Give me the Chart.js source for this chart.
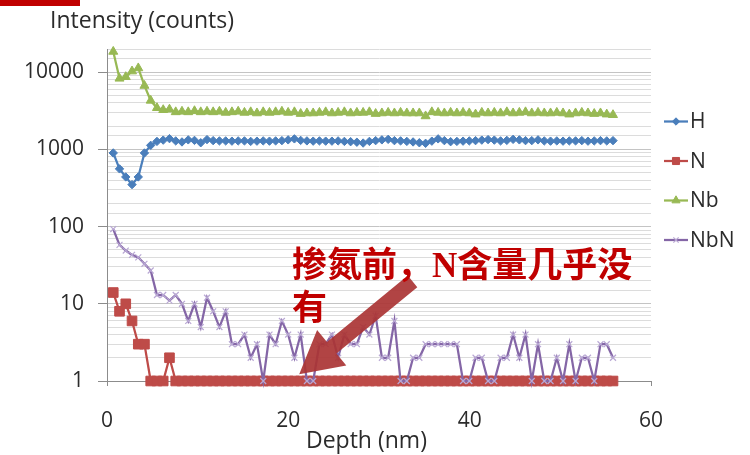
<!DOCTYPE html>
<html>
<head>
<meta charset="utf-8">
<script src="https://cdn.jsdelivr.net/npm/chart.js@4.4.1/dist/chart.umd.min.js"></script>
<style>
  body { margin: 0; background: #fff; }
  #wrap { position: relative; width: 750px; height: 455px; overflow: hidden; }
  #box { position: absolute; left: 0; top: 0; width: 750px; height: 455px; }
  .bar { position: absolute; left: 0; top: 0; width: 80px; height: 6px; background: #c00000; }
  .lbl { position: absolute; font-family: "Open Sans", sans-serif; font-size: 23px; color: #2b2b2b; white-space: nowrap; }
  #ytitle { left: 50px; top: 3px; }
  #xtitle { left: 306px; top: 423px; }
  #note { position: absolute; left: 292px; top: 244px; font-family: "Liberation Serif", "Noto Sans CJK SC", serif;
          font-weight: bold; font-size: 35px; line-height: 43px; color: #c00000; white-space: nowrap; }
</style>
</head>
<body>
<div id="wrap">
  <div id="box"><canvas id="sims"></canvas></div>
  <div class="bar"></div>
  <div class="lbl" id="ytitle">Intensity (counts)</div>
  <div class="lbl" id="xtitle">Depth (nm)</div>
  <div id="note">掺氮前，N含量几乎没<br>有</div>
</div>
<script>
// depth of each measurement point (nm)
const depth = [0.69, 1.38, 2.07, 2.76, 3.45, 4.13, 4.82, 5.51, 6.20, 6.89,
  7.58, 8.27, 8.96, 9.65, 10.34, 11.03, 11.71, 12.40, 13.09, 13.78,
  14.47, 15.16, 15.85, 16.54, 17.23, 17.92, 18.60, 19.29, 19.98, 20.67,
  21.36, 22.05, 22.74, 23.43, 24.12, 24.81, 25.49, 26.18, 26.87, 27.56,
  28.25, 28.94, 29.63, 30.32, 31.01, 31.70, 32.38, 33.07, 33.76, 34.45,
  35.14, 35.83, 36.52, 37.21, 37.90, 38.59, 39.27, 39.96, 40.65, 41.34,
  42.03, 42.72, 43.41, 44.10, 44.79, 45.48, 46.16, 46.85, 47.54, 48.23,
  48.92, 49.61, 50.30, 50.99, 51.68, 52.37, 53.05, 53.74, 54.43, 55.12, 55.81];

const hCounts = [900, 560, 440, 350, 440, 900, 1130, 1270, 1320, 1380,
  1290, 1250, 1330, 1310, 1220, 1340, 1300, 1290, 1290, 1280,
  1290, 1290, 1270, 1280, 1290, 1280, 1290, 1300, 1330, 1370,
  1310, 1290, 1280, 1290, 1280, 1280, 1290, 1270, 1260, 1240,
  1210, 1270, 1300, 1330, 1350, 1300, 1290, 1270, 1250, 1220,
  1200, 1280, 1370, 1300, 1260, 1270, 1280, 1290, 1300, 1320,
  1340, 1320, 1290, 1310, 1350, 1330, 1300, 1300, 1330, 1290,
  1280, 1290, 1280, 1290, 1290, 1300, 1280, 1290, 1300, 1290, 1300];

const nCounts = [14, 8, 10, 6, 3, 3, 1, 1, 1, 2,
  1, 1, 1, 1, 1, 1, 1, 1, 1, 1,
  1, 1, 1, 1, 1, 1, 1, 1, 1, 1,
  1, 1, 1, 1, 1, 1, 1, 1, 1, 1,
  1, 1, 1, 1, 1, 1, 1, 1, 1, 1,
  1, 1, 1, 1, 1, 1, 1, 1, 1, 1,
  1, 1, 1, 1, 1, 1, 1, 1, 1, 1,
  1, 1, 1, 1, 1, 1, 1, 1, 1, 1, 1];

const nbCounts = [18500, 8300, 8700, 10300, 11300, 6700, 4300, 3450, 3250, 3300,
  3050, 3100, 3050, 3150, 3050, 3100, 3050, 3100, 3000, 3050,
  3100, 3000, 3050, 2950, 3050, 3000, 3050, 3100, 3000, 3050,
  2900, 2950, 2950, 3000, 3050, 2950, 3000, 3050, 2950, 3000,
  3000, 3050, 2900, 2950, 3000, 2950, 3000, 2950, 2950, 2950,
  2700, 3050, 3000, 2950, 3000, 2950, 3000, 2950, 2850, 3000,
  2950, 3000, 2950, 3050, 2950, 3000, 3050, 2950, 3000, 2950,
  2950, 3000, 2950, 2850, 2950, 3000, 2950, 2900, 2950, 2850, 2800];

const nbnCounts = [93, 58, 49, 43, 40, 33, 27, 13, 13, 11,
  13, 10, 6, 10, 5, 12, 8, 5, 8, 3,
  3, 4, 2, 3, 1, 4, 3, 6, 4, 2,
  4, 1, 1, 3, 3, 4, 2, 4, 3, 3,
  5, 4, 7, 2, 2, 6, 1, 1, 2, 2,
  3, 3, 3, 3, 3, 3, 1, 1, 2, 2,
  1, 1, 2, 2, 4, 2, 4, 1, 3, 1,
  1, 2, 1, 3, 1, 2, 2, 1, 3, 3, 2];

const seriesNames = ['H', 'N', 'Nb', 'NbN'];
const xTicks = [0, 20, 40, 60];
const yMin = 1, yMax = 20000;

function pts(vals) {
  return vals.map((v, i) => ({ x: depth[i], y: v }));
}

function isDecade(v) {
  const l = Math.log10(v);
  return Math.abs(l - Math.round(l)) < 1e-9;
}

// side legend like the excel one
const sideLegend = {
  id: 'sideLegend',
  afterDraw(chart) {
    const ctx = chart.ctx;
    chart.data.datasets.forEach((ds, i) => {
      const y = 121.5 + i * 39.5;
      ctx.save();
      ctx.strokeStyle = ds.borderColor;
      ctx.lineWidth = ds.borderWidth;
      ctx.beginPath();
      ctx.moveTo(664, y);
      ctx.lineTo(688, y);
      ctx.stroke();
      ctx.fillStyle = ds.pointBackgroundColor;
      ctx.strokeStyle = ds.pointBorderColor;
      ctx.lineWidth = ds.pointBorderWidth;
      const r = ds.pointStyle === 'rect' ? 5 : ds.pointRadius - 0.5;
      Chart.helpers.drawPoint(ctx, { pointStyle: ds.pointStyle, radius: r, borderWidth: ds.pointBorderWidth, rotation: 0 }, 676, y);
      ctx.fillStyle = '#2b2b2b';
      ctx.font = '21px "Open Sans"';
      ctx.textBaseline = 'middle';
      ctx.fillText(ds.label, 690, y + 1);
      ctx.restore();
    });
  }
};

// the red arrow of the slide
const noteArrow = {
  id: 'noteArrow',
  afterDatasetsDraw(chart) {
    const xs = chart.scales.x, ys = chart.scales.y;
    const x0 = xs.getPixelForValue(33.7), y0 = ys.getPixelForValue(19.5);
    const x1 = xs.getPixelForValue(21.2), y1 = ys.getPixelForValue(1.22);
    const dx = x1 - x0, dy = y1 - y0, len = Math.hypot(dx, dy);
    const ux = dx / len, uy = dy / len, nx = -uy, ny = ux;
    const head = 42, hw = 23, sw = 7.5;
    const bx = x1 - ux * head, by = y1 - uy * head;
    const ctx = chart.ctx;
    ctx.save();
    ctx.fillStyle = 'rgba(170, 52, 52, 0.92)';
    ctx.beginPath();
    ctx.moveTo(x0 + nx * sw, y0 + ny * sw);
    ctx.lineTo(bx + nx * sw, by + ny * sw);
    ctx.lineTo(bx + nx * hw, by + ny * hw);
    ctx.lineTo(x1, y1);
    ctx.lineTo(bx - nx * hw, by - ny * hw);
    ctx.lineTo(bx - nx * sw, by - ny * sw);
    ctx.lineTo(x0 - nx * sw, y0 - ny * sw);
    ctx.closePath();
    ctx.fill();
    ctx.restore();
  }
};

new Chart(document.getElementById('sims'), {
  type: 'line',
  data: {
    datasets: [{
      label: seriesNames[0],
      data: pts(hCounts),
      borderColor: '#4a7ebb',
      borderWidth: 2.25,
      pointStyle: 'rectRot',
      pointRadius: 4.2,
      pointBackgroundColor: '#4a7ebb',
      pointBorderColor: '#4a7ebb',
      pointBorderWidth: 1,
      clip: false,
      order: 4
    }, {
      label: seriesNames[1],
      data: pts(nCounts),
      borderColor: '#be4b48',
      borderWidth: 2.25,
      pointStyle: 'rect',
      pointRadius: 6.8,
      pointBackgroundColor: '#be4b48',
      pointBorderColor: '#be4b48',
      pointBorderWidth: 1,
      clip: false,
      order: 3
    }, {
      label: seriesNames[2],
      data: pts(nbCounts),
      borderColor: '#98b954',
      borderWidth: 2.25,
      pointStyle: 'triangle',
      pointRadius: 5.2,
      pointBackgroundColor: '#98b954',
      pointBorderColor: '#98b954',
      pointBorderWidth: 1,
      clip: false,
      order: 2
    }, {
      label: seriesNames[3],
      data: pts(nbnCounts),
      borderColor: '#8466a6',
      borderWidth: 2.25,
      pointStyle: 'crossRot',
      pointRadius: 4.2,
      pointBackgroundColor: '#b9a8d4',
      pointBorderColor: '#b9a8d4',
      pointBorderWidth: 1.2,
      clip: false,
      order: 1
    }]
  },
  options: {
    responsive: true,
    maintainAspectRatio: false,
    animation: false,
    layout: { padding: { left: 0, top: 49, right: 99, bottom: 0 } },
    plugins: { legend: { display: false }, tooltip: { enabled: false } },
    scales: {
      x: {
        type: 'linear',
        min: xTicks[0],
        max: xTicks[xTicks.length - 1],
        afterFit: s => { s.height = 74; },
        afterBuildTicks: s => { s.ticks = xTicks.map(v => ({ value: v })); },
        grid: { drawOnChartArea: false, tickLength: 5, color: '#8c8c8c' },
        border: { color: '#8c8c8c' },
        ticks: { padding: 22, color: '#2b2b2b', font: { family: 'Open Sans', size: 21 } }
      },
      y: {
        type: 'logarithmic',
        min: yMin,
        max: yMax,
        afterFit: s => { s.width = 107; },
        grid: {
          color: c => isDecade(c.tick.value) ? '#c4c4c4' : '#dcdcdc',
          tickColor: c => isDecade(c.tick.value) ? '#8c8c8c' : 'rgba(0,0,0,0)',
          tickLength: 9
        },
        border: { color: '#8c8c8c' },
        ticks: {
          autoSkip: false,
          padding: 14,
          color: '#2b2b2b',
          font: { family: 'Open Sans', size: 21 },
          callback: v => isDecade(v) ? String(v) : ''
        }
      }
    }
  },
  plugins: [noteArrow, sideLegend]
});
</script>
</body>
</html>
